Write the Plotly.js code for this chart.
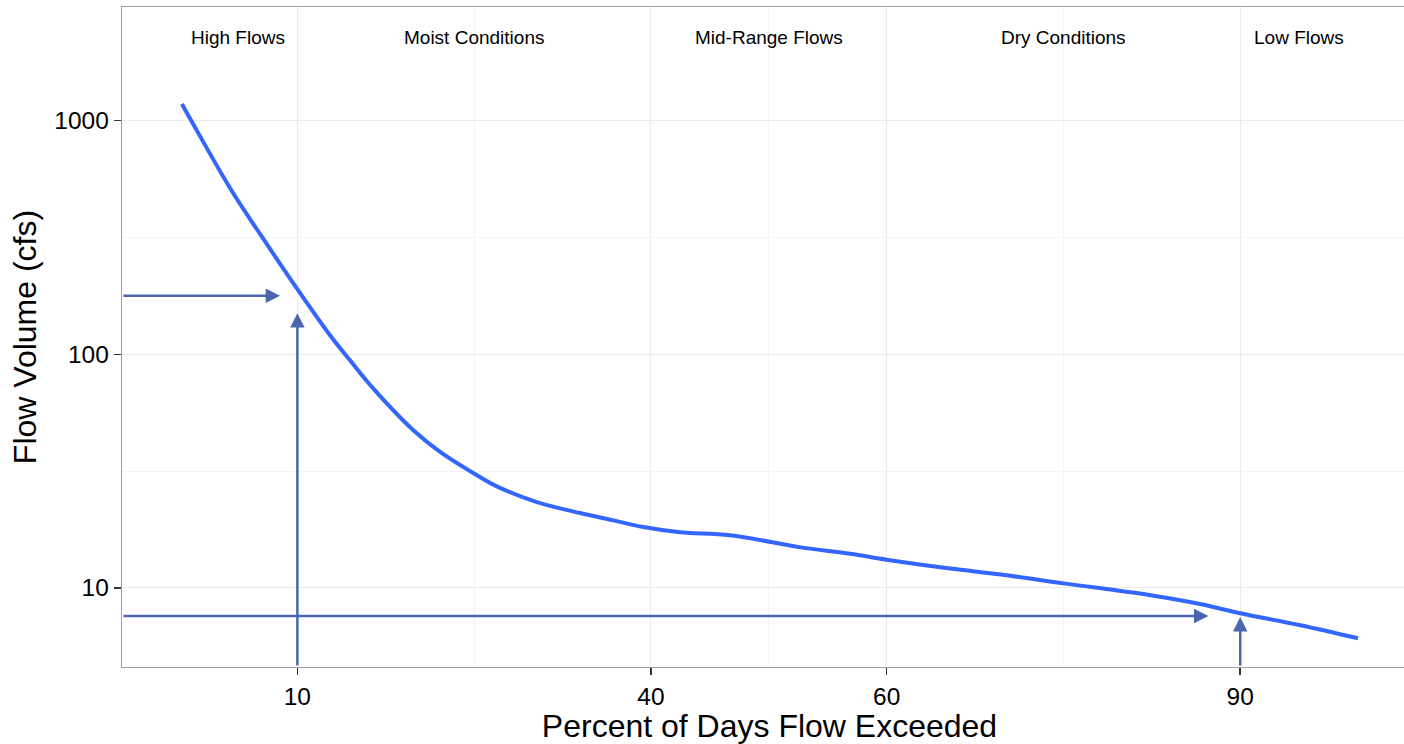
<!DOCTYPE html>
<html><head><meta charset="utf-8">
<script src="https://cdn.plot.ly/plotly-3.0.1.min.js"></script>
<style>
html,body{margin:0;padding:0;overflow:hidden;background:#fff;width:1404px;height:744px}
#chart{width:1417px;height:744px}
</style>
</head><body><div id="chart"></div>
<script>
// Flow duration curve values
const percentExceeded = [0.2, 1, 4.4, 7, 10, 12.77, 14.47, 16.45, 19.84, 22.11, 25.02, 26.92, 30.32, 33.99, 36.82, 39.36, 42.48, 46.72, 52.7, 56.9, 60, 65.4, 69.7, 75, 78.2, 82.4, 86.7, 90, 95.1, 100];
const flowCfs = [1180, 1000, 504, 318, 190, 120.6, 94.2, 71.3, 47.3, 38.2, 30.8, 27.2, 23.3, 20.9, 19.45, 18.2, 17.3, 16.8, 14.9, 14.0, 13.2, 12.1, 11.4, 10.45, 9.95, 9.29, 8.5, 7.78, 6.92, 6.08];

const xTickVals = [10, 40, 60, 90];
const xMinorVals = [25, 50, 75];
const yTickVals = [10, 100, 1000];
const yMinorVals = [31.62, 316.2];

const zoneNames = ["High Flows", "Moist Conditions", "Mid-Range Flows", "Dry Conditions", "Low Flows"];
const zoneCenters = [5, 25, 50, 75, 95];

// reference arrows
const hArrowFlow = [178, 7.57];
const hArrowTipPct = [8.53, 87.3];
const vArrowPct = [10, 90];
const vArrowTipFlow = [150, 7.5];

const xRange = [-4.88, 105];
const yRangeLog = [0.661, 3.487];

const arrowColor = '#4a66ae';
const font = 'Liberation Sans, Arial, sans-serif';

const annotations = [];
zoneNames.forEach((t, i) => {
  annotations.push({
    x: zoneCenters[i], xref: 'x', y: 0.954, yref: 'paper',
    text: t, showarrow: false, xanchor: 'center', yanchor: 'middle',
    font: {family: font, size: 19, color: '#000'}
  });
});
hArrowFlow.forEach((f, i) => {
  annotations.push({
    x: hArrowTipPct[i], y: Math.log10(f), xref: 'x', yref: 'y',
    ax: xRange[0], ay: Math.log10(f), axref: 'x', ayref: 'y',
    text: '', showarrow: true, arrowhead: 2, arrowsize: 1.15, arrowwidth: 2.5,
    arrowcolor: arrowColor, standoff: 0
  });
});
vArrowPct.forEach((p, i) => {
  annotations.push({
    x: p, y: Math.log10(vArrowTipFlow[i]), xref: 'x', yref: 'y',
    ax: p, ay: yRangeLog[0], axref: 'x', ayref: 'y',
    text: '', showarrow: true, arrowhead: 2, arrowsize: 1.15, arrowwidth: 2.5,
    arrowcolor: arrowColor, standoff: 0
  });
});

const trace = {
  x: percentExceeded, y: flowCfs, type: 'scatter', mode: 'lines',
  line: {color: '#3366FF', width: 4, shape: 'spline', smoothing: 1},
  hoverinfo: 'skip', showlegend: false
};

const layout = {
  width: 1417, height: 744,
  margin: {l: 122, r: 0, t: 7, b: 77, pad: 0},
  paper_bgcolor: '#fff', plot_bgcolor: '#fff',
  showlegend: false,
  font: {family: font, color: '#000'},
  xaxis: {
    range: xRange, tickvals: xTickVals, ticktext: xTickVals.map(String),
    ticks: 'outside', ticklen: 7, tickwidth: 1.5, tickcolor: '#333',
    tickfont: {family: font, size: 24.5, color: '#000'},
    showgrid: true, gridcolor: '#ebebeb', gridwidth: 1,
    minor: {tickvals: xMinorVals, showgrid: true, gridcolor: '#f5f5f5', gridwidth: 1, ticks: ''},
    zeroline: false, showline: true, mirror: true, linecolor: '#9e9e9e', linewidth: 1.3,
    title: {text: 'Percent of Days Flow Exceeded', font: {family: font, size: 32, color: '#000'}, standoff: 6}
  },
  yaxis: {
    type: 'log', range: yRangeLog, tickvals: yTickVals, ticktext: yTickVals.map(String),
    ticks: 'outside', ticklen: 7, tickwidth: 1.5, tickcolor: '#333',
    tickfont: {family: font, size: 24.5, color: '#000'},
    showgrid: true, gridcolor: '#ebebeb', gridwidth: 1,
    minor: {tickvals: yMinorVals, showgrid: true, gridcolor: '#f5f5f5', gridwidth: 1, ticks: ''},
    zeroline: false, showline: true, mirror: false, linecolor: '#9e9e9e', linewidth: 1.3,
    title: {text: 'Flow Volume (cfs)', font: {family: font, size: 32, color: '#000'}, standoff: 8}
  },
  annotations: annotations
};

Plotly.newPlot('chart', [trace], layout, {displayModeBar: false, staticPlot: true});
</script>
</body></html>
